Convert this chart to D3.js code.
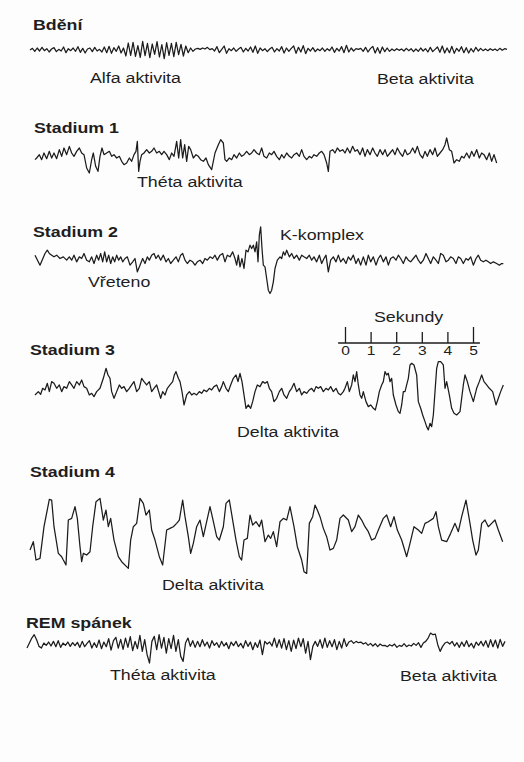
<!DOCTYPE html>
<html>
<head>
<meta charset="utf-8">
<script src="https://d3js.org/d3.v7.min.js"></script>
<style>
body { margin: 0; background: #fdfdfd; }
text { font-family: "Liberation Sans", Arial, sans-serif; fill: #1e1e1e; }
.title { font-weight: bold; font-size: 14px; }
.note { font-size: 14px; }
.trace { fill: none; stroke: #1c1c1c; stroke-width: 1.25; stroke-linejoin: round; }
.scale path, .scale line { stroke: #1c1c1c; stroke-width: 1.3; }
.scale text { font-size: 13px; }
</style>
</head>
<body>
<div id="eeg"></div>
<script>

var svgWidth = 524;
var svgHeight = 762;

// stage names and the activity notes under the traces
var stageNames = ["Bdění", "Stadium 1", "Stadium 2", "Stadium 3", "Stadium 4", "REM spánek"];
var noteLabels = ["Alfa aktivita", "Beta aktivita", "Théta aktivita", "Vřeteno", "K-komplex",
                  "Delta aktivita", "Delta aktivita", "Théta aktivita", "Beta aktivita"];
var secondTicks = [0, 1, 2, 3, 4, 5];

// amplitudes (arbitrary uV units), evenly sampled
var bdeniValues = [
  0,5,-4,6,-3,8,-2,4,-6,3,  7,-5,2,-3,9,-8,4,-2,6,-4,
  10,-7,5,-9,3,6,-5,8,-3,2,  -6,9,-8,11,-10,7,-4,12,-9,6,
  -18,21,-16,23,-19,13,-22,26,-17,20,  -23,18,-13,25,-21,16,-26,22,-16,20,
  -20,23,-14,17,-18,12,-8,6,-4,3,  5,2,6,3,8,1,4,-3,10,-8,
  2,12,-10,4,-2,6,-4,3,8,-6,  5,-3,9,-7,12,-10,6,-2,4,-5,
  3,8,-6,4,-3,10,-9,6,-4,5,  12,-10,8,-6,13,-11,5,-3,7,-5,
  3,-2,6,-4,4,-2,9,-7,5,-3,  10,-8,14,-6,6,-3,4,2,5,-4,
  8,-6,4,11,-9,7,-10,9,-5,6,  -4,3,-2,4,-1,3,-3,5,-2,4,
  -5,3,-4,6,-3,4,-6,8,-5,2,  9,-7,12,-9,6,-8,11,-10,5,-4,
  10,-8,7,-9,4,-6,8,-3,5,-2,  3,-2,4,-1,3,-2,5,-1,4,2
];

var remValues = [
  -10,5,20,30,15,-5,-10,5,-2,8,  -4,10,-6,12,-8,5,-2,8,-5,6,
  -3,7,-8,10,-6,4,12,-10,6,-8,  14,-12,8,-6,18,-16,12,22,-10,16,
  -14,20,-8,24,-18,10,-12,28,-20,15,  -30,-55,10,25,-15,30,-10,22,-25,18,
  -12,28,-20,15,-35,-50,5,20,-5,12,  -8,10,-6,15,-4,8,-10,12,-2,6,
  -8,10,-4,6,-12,8,-3,10,-6,4,  -10,12,-5,8,-15,6,-8,14,-30,10,
  2,8,-4,20,-8,15,-10,18,-15,12,  -20,14,-12,20,-6,18,-25,10,-45,-5,
  10,-5,15,-10,20,-8,12,-6,15,-15,  10,-10,18,-5,8,12,4,10,6,8,
  2,6,-2,4,-4,3,-6,2,-3,-2,  -6,0,-4,2,-8,-2,-5,3,-6,-1,
  -4,4,-2,6,-8,5,10,20,35,30,  32,0,-20,-5,5,8,2,10,-4,6,
  -8,8,-5,12,-6,4,-10,8,-2,10,  -4,12,-8,15,-6,14,-10,16,-5,10
];

// [time, amplitude] pairs, time in sample units (about 76 per second)
var stadium1 = [
  [45,-5],[50,0],[58,10],[65,-5],[72,15],[80,-2],[88,20],[95,0],[102,15],[110,-2],
  [118,25],[125,5],[132,30],[140,10],[148,35],[155,15],[162,5],[170,20],[178,30],[185,15],
  [192,10],[200,-30],[208,-45],[215,-5],[220,15],[227,-25],[234,-40],[240,5],[246,30],[252,10],
  [260,15],[268,20],[275,5],[282,10],[290,0],[298,5],[305,-10],[312,-20],[320,-15],[328,0],
  [335,-10],[342,10],[348,20],[352,50],[356,-40],[360,-10],[365,10],[372,15],[380,25],[388,15],
  [395,20],[402,30],[410,15],[418,20],[425,10],[432,20],[440,10],[448,-5],[455,15],[462,5],
  [470,50],[476,0],[482,55],[488,0],[494,40],[500,-10],[506,35],[512,25],[520,0],[528,10],
  [535,5],[542,-5],[550,-10],[558,0],[565,-20],[575,-35],[585,15],[595,40],[602,55],[610,45],
  [615,-5],[620,-10],[628,0],[635,-5],[642,10],[650,0],[658,15],[665,5],[672,10],[680,20],
  [688,10],[695,15],[702,25],[710,15],[718,10],[725,30],[732,5],[740,0],[748,15],[755,10],
  [762,20],[770,5],[778,-5],[785,10],[792,0],[800,15],[808,5],[815,0],[822,10],[830,15],
  [838,5],[845,25],[852,5],[860,-5],[868,5],[875,0],[882,10],[890,5],[898,15],[905,20],
  [912,10],[920,-15],[925,-40],[930,20],[938,25],[945,15],[952,30],[960,20],[968,25],[975,15],
  [982,30],[990,15],[998,35],[1005,20],[1012,25],[1020,10],[1028,30],[1035,5],[1042,25],[1050,10],
  [1058,30],[1065,15],[1072,5],[1080,25],[1088,10],[1095,25],[1102,5],[1110,15],[1118,25],[1125,10],
  [1132,30],[1140,15],[1148,5],[1155,25],[1162,10],[1170,15],[1178,30],[1185,15],[1192,35],[1200,10],
  [1208,0],[1215,20],[1222,5],[1230,25],[1238,10],[1245,30],[1252,5],[1260,15],[1268,25],[1275,40],
  [1280,60],[1288,25],[1295,20],[1302,-15],[1310,-5],[1318,-10],[1325,5],[1332,0],[1340,15],[1348,0],
  [1355,20],[1362,5],[1370,25],[1378,0],[1385,15],[1392,10],[1400,-5],[1408,15],[1415,-10],[1422,10],
  [1430,-15]
];

var stadium2 = [
  [45,10],[60,-20],[75,15],[82,25],[88,15],[95,10],[102,5],[110,10],[120,0],[130,5],
  [140,-5],[148,5],[155,-5],[162,10],[170,-10],[178,5],[185,0],[192,15],[200,-5],[208,-10],
  [215,5],[222,-15],[230,10],[236,-5],[242,15],[248,-10],[254,20],[260,-10],[266,10],[272,-15],
  [278,5],[284,-10],[290,10],[296,-5],[302,5],[308,-10],[315,0],[322,5],[330,-20],[338,-10],
  [345,0],[352,-40],[360,-20],[368,0],[375,-15],[382,5],[388,-5],[395,10],[402,15],[408,0],
  [415,10],[422,-5],[430,10],[438,-10],[445,0],[452,-15],[460,-5],[468,5],[475,-10],[482,10],
  [488,15],[495,-5],[502,-15],[510,-5],[518,-10],[525,-20],[532,-10],[540,-5],[548,-15],[555,0],
  [562,-5],[570,5],[578,0],[585,10],[592,-5],[600,10],[608,15],[615,-10],[622,10],[630,5],
  [638,20],[645,0],[650,-20],[655,10],[660,-25],[666,0],[672,-30],[678,25],[684,20],[690,40],
  [695,30],[700,40],[705,20],[710,50],[714,-10],[718,70],[722,95],[726,30],[730,-20],[735,-25],
  [740,-60],[745,-95],[750,-105],[755,-95],[760,-70],[765,-30],[772,-5],[780,5],[785,0],[790,20],
  [795,10],[800,25],[808,5],[815,15],[822,0],[830,10],[838,-5],[845,10],[852,5],[860,0],
  [868,10],[875,-5],[882,5],[890,-10],[898,10],[905,-15],[912,0],[918,10],[925,-40],[932,-5],
  [940,5],[948,-10],[955,10],[962,-10],[970,0],[978,-15],[985,5],[992,-5],[1000,10],[1008,-15],
  [1015,0],[1022,-20],[1030,5],[1038,-20],[1045,10],[1052,-10],[1060,5],[1068,-20],[1075,0],[1082,10],
  [1090,-10],[1098,5],[1105,-20],[1112,0],[1120,5],[1128,-5],[1135,10],[1142,0],[1150,-15],[1158,5],
  [1165,-5],[1172,-10],[1180,0],[1188,10],[1195,-5],[1202,-15],[1210,-5],[1218,15],[1225,0],[1232,-15],
  [1240,5],[1248,-5],[1255,-15],[1262,15],[1270,10],[1278,-10],[1285,-5],[1292,5],[1300,0],[1308,-15],
  [1315,5],[1322,0],[1330,-15],[1338,0],[1345,-5],[1352,5],[1360,-20],[1368,0],[1375,10],[1382,-5],
  [1390,-10],[1398,-5],[1405,-10],[1412,-15],[1420,-10],[1430,-15],[1438,-20],[1445,-15],[1450,-15]
];

var stadium3 = [
  [45,-5],[55,5],[62,-3],[68,15],[75,10],[82,30],[88,5],[95,35],[102,30],[110,15],
  [118,25],[125,5],[132,20],[140,15],[148,35],[155,25],[162,15],[170,35],[178,25],[185,40],
  [192,20],[200,15],[208,-5],[215,0],[222,-10],[230,5],[240,15],[250,45],[258,75],[264,55],
  [270,45],[275,5],[282,-15],[290,5],[298,25],[305,15],[312,20],[320,5],[328,15],[335,25],
  [342,35],[350,5],[358,15],[365,45],[372,35],[380,25],[388,35],[395,5],[402,15],[410,25],
  [416,5],[422,-15],[428,5],[435,-5],[442,15],[450,25],[458,35],[463,55],[468,65],[475,45],
  [480,35],[486,5],[492,-35],[500,-5],[508,5],[515,-5],[522,0],[530,-5],[538,5],[545,0],
  [552,10],[560,5],[568,15],[575,10],[582,20],[590,25],[598,5],[605,20],[610,35],[618,15],
  [625,5],[632,25],[640,45],[648,55],[654,35],[660,60],[666,35],[672,-5],[678,-45],[685,-35],
  [692,-45],[698,-25],[705,5],[712,25],[720,20],[728,35],[735,30],[742,35],[748,15],[755,5],
  [762,-25],[770,-15],[778,5],[785,15],[792,-5],[800,-15],[808,5],[815,15],[822,30],[830,5],
  [838,15],[845,-5],[852,5],[860,0],[868,10],[875,15],[882,5],[888,20],[895,15],[902,20],
  [910,5],[918,15],[925,10],[932,20],[940,5],[948,15],[955,0],[962,-5],[970,5],[975,15],
  [982,35],[988,5],[995,25],[1000,55],[1005,35],[1010,65],[1015,25],[1020,-5],[1025,-15],[1030,5],
  [1038,-25],[1045,-40],[1052,-35],[1060,-45],[1066,-50],[1072,-25],[1078,5],[1085,25],[1090,35],[1095,65],
  [1100,55],[1105,60],[1110,35],[1115,45],[1120,-5],[1128,-35],[1135,-55],[1140,-60],[1145,-35],[1150,5],
  [1155,5],[1160,25],[1165,45],[1170,85],[1175,90],[1182,85],[1190,55],[1195,-25],[1202,-45],[1208,-65],
  [1215,-85],[1220,-100],[1225,-110],[1230,-90],[1235,-100],[1240,-65],[1245,5],[1250,75],[1255,95],[1262,95],
  [1270,85],[1275,15],[1280,35],[1288,-5],[1295,-45],[1302,-60],[1310,-65],[1320,-55],[1330,25],[1335,55],
  [1342,35],[1350,5],[1360,-25],[1370,15],[1378,35],[1385,55],[1392,35],[1400,25],[1408,15],[1418,5],
  [1428,-35],[1435,-15],[1442,5],[1450,25]
];

var stadium4 = [
  [30,-40],[40,-15],[48,-70],[60,-65],[72,30],[88,112],[95,110],[102,30],[115,-50],[125,-60],
  [130,-70],[138,-85],[145,50],[155,55],[165,90],[172,55],[180,-30],[185,-75],[190,-50],[200,-55],
  [210,-45],[218,30],[228,105],[240,115],[250,50],[258,80],[265,30],[272,55],[282,-10],[295,-60],
  [305,-75],[325,-95],[332,-10],[340,30],[350,40],[360,115],[370,100],[378,65],[388,80],[395,20],
  [405,-10],[418,-60],[428,-85],[440,20],[450,25],[460,30],[470,40],[478,50],[488,110],[495,60],
  [505,0],[512,-50],[520,-20],[530,30],[540,50],[550,0],[560,45],[570,90],[578,55],[590,0],
  [598,-10],[610,30],[618,100],[628,110],[638,50],[648,-10],[658,-60],[665,-70],[672,-10],[682,-5],
  [690,65],[698,35],[708,45],[718,30],[725,50],[735,-15],[745,5],[752,-5],[760,15],[770,-30],
  [780,45],[790,55],[800,50],[810,90],[822,30],[832,-30],[845,-70],[852,-105],[860,-110],[868,40],
  [878,60],[885,95],[892,80],[900,60],[910,25],[920,0],[930,-40],[940,-35],[950,-10],[960,55],
  [970,65],[985,50],[995,15],[1005,30],[1015,65],[1025,50],[1035,30],[1045,15],[1055,-10],[1065,-5],
  [1075,20],[1090,55],[1100,65],[1112,30],[1122,60],[1132,20],[1145,-10],[1160,-60],[1170,-20],[1182,30],
  [1195,20],[1205,10],[1215,40],[1225,45],[1240,55],[1248,75],[1255,30],[1265,-10],[1280,-15],[1292,10],
  [1305,40],[1315,15],[1325,60],[1338,110],[1350,40],[1358,-10],[1368,-55],[1375,-40],[1385,40],[1395,50],
  [1405,30],[1415,40],[1425,50],[1435,20],[1448,-15]
];

var svg = d3.select("#eeg")
    .append("svg")
    .attr("width", svgWidth)
    .attr("height", svgHeight);

svg.append("rect")
    .attr("width", svgWidth)
    .attr("height", svgHeight)
    .attr("fill", "#fdfdfd");

// one time axis for the paired traces, 1500 units across the page
var timeScale = d3.scaleLinear()
    .domain([0, 1500])
    .range([20, 520]);

// each trace gets its own baseline
var traces = [
  { title: stageNames[0], tx: 33, ty: 30, cy: 50, values: bdeniValues, x0: 30, x1: 507 },
  { title: stageNames[1], tx: 34, ty: 133, cy: 158, points: stadium1 },
  { title: stageNames[2], tx: 33, ty: 237, cy: 258.5, points: stadium2 },
  { title: stageNames[3], tx: 30, ty: 355, cy: 393.3, points: stadium3 },
  { title: stageNames[4], tx: 30, ty: 477, cy: 536.7, points: stadium4 },
  { title: stageNames[5], tx: 26, ty: 628, cy: 644.7, values: remValues, x0: 27, x1: 505 }
];

traces.forEach(function(tr) {
    var yScale = d3.scaleLinear()
        .domain([-150, 150])
        .range([tr.cy + 50, tr.cy - 50]);

    var line;
    var data;
    if (tr.values) {
        var idxScale = d3.scaleLinear()
            .domain([0, tr.values.length - 1])
            .range([tr.x0, tr.x1]);
        data = tr.values;
        line = d3.line()
            .x((d, i) => idxScale(i))
            .y(d => yScale(d));
    } else {
        data = tr.points;
        line = d3.line()
            .x(d => timeScale(d[0]))
            .y(d => yScale(d[1]));
    }

    svg.append("path")
        .datum(data)
        .attr("class", "trace")
        .attr("d", line);

    svg.append("text")
        .attr("class", "title")
        .attr("transform", `translate(${tr.tx}, ${tr.ty}) scale(1.27, 1)`)
        .text(tr.title);
});

var notePos = [
  [90, 83], [377, 84], [137, 187], [88, 287], [280, 240],
  [237, 437], [162, 590], [110, 680], [400, 681]
];

svg.selectAll(".note")
    .data(noteLabels)
    .enter()
    .append("text")
    .attr("class", "note")
    .attr("transform", (d, i) => `translate(${notePos[i][0]}, ${notePos[i][1]}) scale(1.27, 1)`)
    .text(d => d);

// scale bar in seconds
var secScale = d3.scaleLinear()
    .domain([0, 5])
    .range([345, 473]);

var scaleGroup = svg.append("g")
    .attr("class", "scale")
    .attr("transform", "translate(0, 343)")
    .call(d3.axisBottom(secScale)
        .tickValues(secondTicks)
        .tickFormat(d3.format("d"))
        .tickSizeInner(-11)
        .tickSizeOuter(0)
        .tickPadding(3));

scaleGroup.select(".domain")
    .attr("d", `M${secScale(-0.27)},0H${secScale(5.27)}`);

scaleGroup.selectAll(".tick line")
    .attr("y2", d => (d == 0 || d == 5) ? -16 : -11);

scaleGroup.selectAll(".tick text")
    .attr("fill", "#1e1e1e")
    .attr("font-family", "Liberation Sans, Arial, sans-serif")
    .attr("transform", "scale(1.2, 1)");

svg.append("text")
    .attr("class", "note")
    .attr("transform", "translate(374, 322) scale(1.27, 1)")
    .text("Sekundy");

</script>
</body>
</html>
